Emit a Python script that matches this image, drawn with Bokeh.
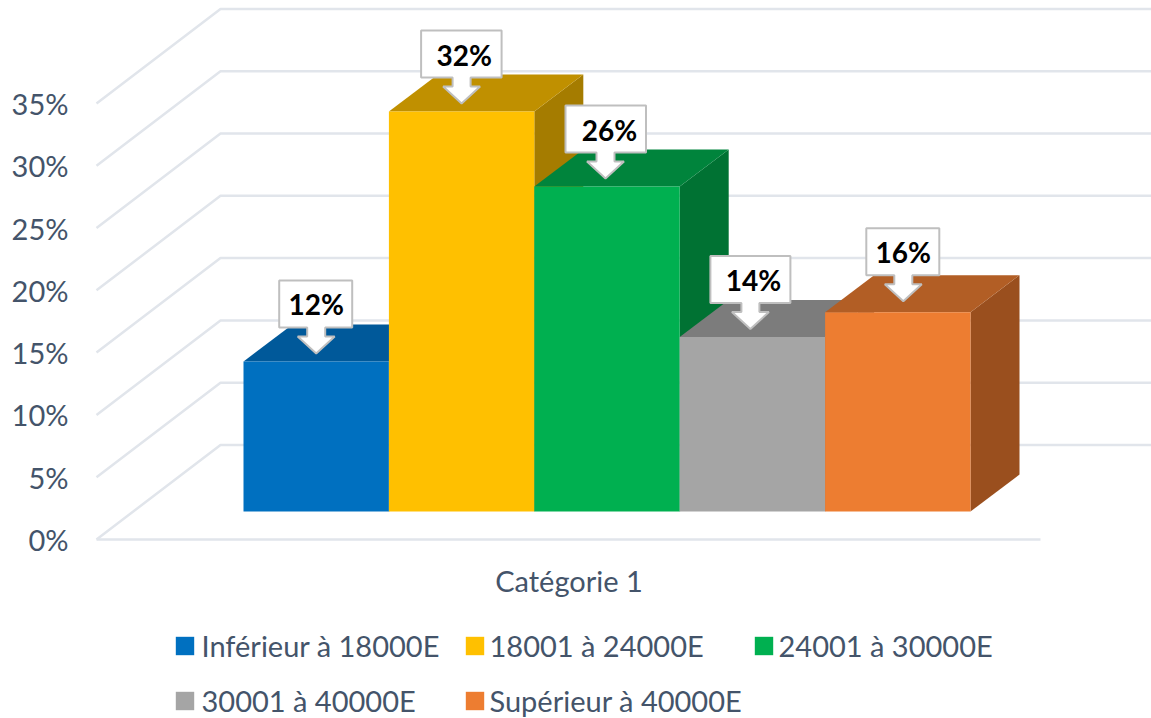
from bokeh.plotting import figure
from bokeh.embed import file_html
from bokeh.resources import INLINE
from bokeh.core.properties import value
from bokeh.models import Range1d, Legend, LegendItem, FixedTicker, PrintfTickFormatter

# ---- data ----
category = "Catégorie 1"
series = ["Inférieur à 18000E", "18001 à 24000E", "24001 à 30000E", "30001 à 40000E", "Supérieur à 40000E"]
values = [12.04, 32.1, 26.08, 14.0, 16.0]
labels = ["12%", "32%", "26%", "14%", "16%"]
ticks = [0, 5, 10, 15, 20, 25, 30, 35]

# ---- styles ----
front = ["#0070C0", "#FFC000", "#00B050", "#A5A5A5", "#ED7D31"]
top_c = ["#00599A", "#C09000", "#00843C", "#7C7C7C", "#B25E25"]
side_c = ["#004F86", "#A57C00", "#007233", "#6E6E6E", "#9A4F1E"]
TXT = "#44546A"
GRID = "#E1E5EB"
FONT = "Lato"

# ---- geometry (pixels of the page) ----
PX = 12.46                     # pixels per percentage point
AX_X, WALL_X, RIGHT_X, FLOOR_END = 97, 221, 1152, 1041
WALL_DY = 94.5 / PX
BAR_X0, BAR_W = 244, 145.4
BAR_DX, BAR_DY = 49, 37 / PX
FLOOR_UP = 28 / PX
box_l = [37, 40.5, 40, 40, 37]
box_r = [36, 40, 40.5, 40, 36]
tip_dx = [0, 0, -1.5, -2, 5.5]
tip_gap = [8, 8, 8, 8, 11]
txt_dx = [0, 2.6, 4, 3, 0]

Y0 = 539
y_top = Y0 / PX
y_bot = (Y0 - 718) / PX

p = figure(width=1151, height=718, output_backend="svg", toolbar_location=None,
           x_range=Range1d(77, 1152), y_range=Range1d(y_bot, y_top),
           x_axis_location=None, min_border_left=76, min_border_right=0,
           min_border_top=0, min_border_bottom=0, outline_line_color=None)
p.grid.visible = False
ax = p.yaxis[0]
ax.ticker = FixedTicker(ticks=ticks)
ax.formatter = PrintfTickFormatter(format="%d%%")
ax.axis_line_color = None
ax.major_tick_line_color = None
ax.minor_tick_line_color = None
ax.major_label_standoff = 2
ax.major_label_text_font = FONT
ax.major_label_text_font_size = "29px"
ax.major_label_text_color = TXT

# gridlines on the walls
xs, ys = [], []
for t in ticks:
    xs.append([AX_X, WALL_X, RIGHT_X])
    ys.append([t, t + WALL_DY, t + WALL_DY])
xs.append([AX_X, FLOOR_END])
ys.append([0, 0])
p.multi_line(xs, ys, line_color=GRID, line_width=2.5)

# 3D bars
rs = []
for i, v in enumerate(values):
    x0 = BAR_X0 + i * BAR_W
    x1 = x0 + BAR_W
    b = FLOOR_UP
    t = v + FLOOR_UP
    p.patch([x1, x1 + BAR_DX, x1 + BAR_DX, x1], [b, b + BAR_DY, t + BAR_DY, t],
            fill_color=side_c[i], line_color=None)
    p.patch([x0, x1, x1 + BAR_DX, x0 + BAR_DX], [t, t, t + BAR_DY, t + BAR_DY],
            fill_color=top_c[i], line_color=None)
    rs.append(p.quad(left=[x0], right=[x1], bottom=[b], top=[t], fill_color=front[i], line_color=None))

# callouts
for i, v in enumerate(values):
    cx = BAR_X0 + (i + 0.5) * BAR_W + tip_dx[i]
    tip = v + FLOOR_UP + tip_gap[i] / PX
    u = lambda d: tip + d / PX
    px_ = [cx - box_l[i], cx + box_r[i], cx + box_r[i], cx + 9, cx + 9, cx + 18.5, cx,
           cx - 18.5, cx - 9, cx - 9, cx - box_l[i]]
    py_ = [u(73), u(73), u(26), u(26), u(17), u(17), u(0), u(17), u(17), u(26), u(26)]
    p.patch(px_, py_, fill_color="white", line_color="#BFBFBF", line_width=2)
    p.text([cx + txt_dx[i]], [u(49)], text=[labels[i]], text_font=value(FONT),
           text_font_style="bold", text_font_size="28px", text_color="black",
           text_align="center", text_baseline="middle")

# category label
p.text([569.5], [(Y0 - 579.5) / PX], text=[category], text_font=value(FONT), text_font_size="29px",
       text_color=TXT, text_align="center", text_baseline="middle")

# legend: one column each, so that the columns sit where the reference has them
columns = [([0, 3], 175, 0, 6), ([1, 4], 465, 0, 4), ([2], 754, 55, 4)]
for idx, x, bottom, standoff in columns:
    items = [LegendItem(label=series[k], renderers=[rs[k]]) for k in idx]
    leg = Legend(items=items, location=(x - 76 - 2.5, bottom),
                 glyph_width=23, glyph_height=23, label_standoff=standoff, spacing=20, padding=0, margin=0,
                 border_line_color=None, background_fill_color=None, background_fill_alpha=0,
                 label_text_font=FONT, label_text_font_size="29px", label_text_color=TXT,
                 label_height=32)
    p.add_layout(leg, "center")

open("out.html", "w").write(file_html(p, INLINE))
